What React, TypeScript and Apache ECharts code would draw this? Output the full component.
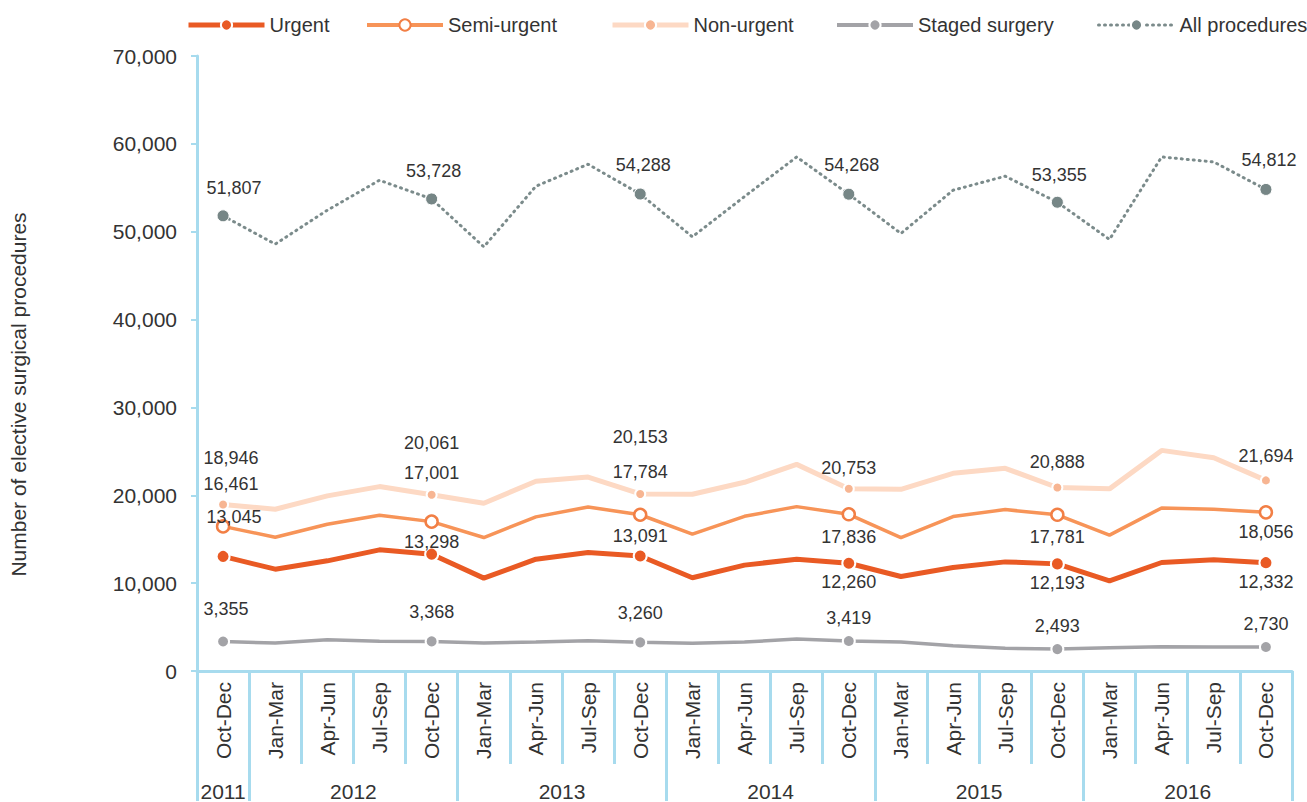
import React, { useEffect, useRef } from "react";
import * as echarts from "echarts";

const quarters = [
  "Oct-Dec",
  "Jan-Mar", "Apr-Jun", "Jul-Sep", "Oct-Dec",
  "Jan-Mar", "Apr-Jun", "Jul-Sep", "Oct-Dec",
  "Jan-Mar", "Apr-Jun", "Jul-Sep", "Oct-Dec",
  "Jan-Mar", "Apr-Jun", "Jul-Sep", "Oct-Dec",
  "Jan-Mar", "Apr-Jun", "Jul-Sep", "Oct-Dec",
];
const years = ["2011", "2012", "2013", "2014", "2015", "2016"];
const quartersPerYear = [1, 4, 4, 4, 4, 4];

const urgent = [13045, 11590, 12540, 13790, 13298, 10570, 12730, 13490, 13091, 10610, 12050, 12730, 12260, 10760, 11780, 12420, 12193, 10270, 12350, 12650, 12332];
const semiUrgent = [16461, 15230, 16700, 17730, 17001, 15190, 17540, 18670, 17784, 15570, 17610, 18710, 17836, 15190, 17580, 18370, 17781, 15460, 18560, 18410, 18056];
const nonUrgent = [18946, 18410, 19930, 20990, 20061, 19090, 21590, 22080, 20153, 20120, 21480, 23520, 20753, 20680, 22500, 23070, 20888, 20730, 25110, 24280, 21694];
const staged = [3355, 3180, 3560, 3400, 3368, 3180, 3300, 3450, 3260, 3150, 3300, 3640, 3419, 3300, 2880, 2580, 2493, 2650, 2770, 2730, 2730];
const allProcedures = [51807, 48590, 52450, 55860, 53728, 48280, 55180, 57680, 54288, 49420, 54000, 58510, 54268, 49800, 54720, 56320, 53355, 49120, 58510, 57940, 54812];

// label offsets (dx, dy) for labelled points (every 4th)
const offUrgent: Record<number, number[]> = { 0: [11, -39], 4: [0, -12], 8: [0, -20], 12: [0, 19], 16: [0, 19], 20: [0, 19] };
const offSemi: Record<number, number[]> = { 0: [8, -42], 4: [0, -49], 8: [0, -43], 12: [0, 23], 16: [0, 22], 20: [0, 20] };
const offNon: Record<number, number[]> = { 0: [8, -47], 4: [0, -52], 8: [0, -57], 12: [0, -21], 16: [0, -25], 20: [0, -24] };
const offStaged: Record<number, number[]> = { 0: [3, -33], 4: [0, -29], 8: [0, -29], 12: [0, -23], 16: [0, -23], 20: [0, -23] };
const offAll: Record<number, number[]> = { 0: [11, -28], 4: [2, -28], 8: [3, -29], 12: [3, -29], 16: [2, -27], 20: [3, -29] };

const AXIS_BLUE = "#a7dbee";
const TEXT = "#333333";
const FONT = "'Liberation Sans', Arial, Helvetica, sans-serif";
const BIG = 21;

function fmt(v: number) {
  return v.toLocaleString("en-US");
}

function buildData(values: number[], offs: Record<number, number[]>) {
  return values.map((v, i) => {
    const o = offs[i];
    if (!o) return { value: v, symbolSize: 0, label: { show: false } };
    return {
      value: v,
      label: {
        show: true,
        position: "inside",
        offset: o,
        formatter: () => fmt(v),
        color: TEXT,
        fontSize: 18,
        fontFamily: FONT,
      },
    };
  });
}

export default function App() {
  const ref = useRef<HTMLDivElement>(null);
  useEffect(() => {
    if (!ref.current) return;
    const chart = echarts.init(ref.current, null, { renderer: "svg" });

    // year axis: 43 half-quarter grid points (boundaryGap false)
    const n = quarters.length * 2 + 1;
    const yearAxisData: string[] = new Array(n).fill("");
    const yearBoundaries = new Set<number>();
    let cum = 0;
    yearBoundaries.add(0);
    years.forEach((y, k) => {
      const c = quartersPerYear[k];
      yearAxisData[cum * 2 + c] = y;
      cum += c;
      yearBoundaries.add(cum * 2);
    });

    const mkLegend = (name: string, left: number, lw: number) => ({
      data: [name],
      left,
      top: 15,
      padding: 0,
      itemWidth: 76,
      itemHeight: 14,
      lineStyle: { width: lw },
      textStyle: { color: TEXT, fontSize: 20, fontFamily: FONT },
    });

    const option: any = {
      animation: false,
      backgroundColor: "#ffffff",
      textStyle: { fontFamily: FONT },
      legend: [
        mkLegend("Urgent", 186, 5),
        mkLegend("Semi-urgent", 365, 4),
        mkLegend("Non-urgent", 610, 5),
        mkLegend("Staged surgery", 835, 4),
        mkLegend("All procedures", 1097, 3),
      ],
      grid: { left: 196, right: 15, top: 56, bottom: 130, containLabel: false },
      xAxis: [
        {
          type: "category",
          data: quarters,
          boundaryGap: true,
          axisLine: { show: true, lineStyle: { color: AXIS_BLUE, width: 3 } },
          axisTick: { show: true, interval: 0, length: 93, lineStyle: { color: AXIS_BLUE, width: 3 } },
          axisLabel: {
            interval: 0,
            rotate: 90,
            margin: 11,
            color: TEXT,
            fontSize: BIG,
            fontFamily: FONT,
          },
          splitLine: { show: false },
        },
        {
          type: "category",
          data: yearAxisData,
          position: "bottom",
          boundaryGap: false,
          axisLine: { show: false },
          axisTick: {
            show: true,
            interval: (idx: number) => yearBoundaries.has(idx),
            length: 130,
            lineStyle: { color: AXIS_BLUE, width: 3 },
          },
          axisLabel: {
            interval: 0,
            margin: 110,
            color: TEXT,
            fontSize: BIG,
            fontFamily: FONT,
          },
          splitLine: { show: false },
        },
      ],
      yAxis: {
        type: "value",
        min: 0,
        max: 70000,
        interval: 10000,
        name: "Number of elective surgical procedures",
        nameLocation: "middle",
        nameGap: 168,
        nameTextStyle: { color: TEXT, fontSize: BIG, fontFamily: FONT, padding: [0, 62, 0, 0] },
        axisLine: { show: true, lineStyle: { color: AXIS_BLUE, width: 3 } },
        axisTick: { show: true, length: 6, lineStyle: { color: AXIS_BLUE, width: 2 } },
        axisLabel: {
          color: TEXT,
          fontSize: BIG,
          fontFamily: FONT,
          margin: 20,
          formatter: (v: number) => fmt(v),
        },
        splitLine: { show: false },
      },
      series: [
        {
          name: "Staged surgery",
          type: "line",
          data: buildData(staged, offStaged),
          symbol: "circle",
          symbolSize: 12,
          lineStyle: { color: "#a3a3a7", width: 3.5 },
          itemStyle: { color: "#a3a3a7", borderColor: "#ffffff", borderWidth: 2 },
          z: 2,
        },
        {
          name: "Urgent",
          type: "line",
          data: buildData(urgent, offUrgent),
          symbol: "circle",
          symbolSize: 13,
          lineStyle: { color: "#e95a24", width: 5 },
          itemStyle: { color: "#e95a24", borderColor: "#ffffff", borderWidth: 2 },
          z: 3,
        },
        {
          name: "Semi-urgent",
          type: "line",
          data: buildData(semiUrgent, offSemi),
          symbol: "circle",
          symbolSize: 12,
          lineStyle: { color: "#f79458", width: 3.5 },
          itemStyle: { color: "#ffffff", borderColor: "#f27f45", borderWidth: 2.5 },
          z: 3,
        },
        {
          name: "Non-urgent",
          type: "line",
          data: buildData(nonUrgent, offNon),
          symbol: "circle",
          symbolSize: 10,
          lineStyle: { color: "#fdd9c4", width: 5 },
          itemStyle: { color: "#f7b592", borderColor: "#ffffff", borderWidth: 2 },
          z: 2,
        },
        {
          name: "All procedures",
          type: "line",
          data: buildData(allProcedures, offAll),
          symbol: "circle",
          symbolSize: 12,
          lineStyle: { color: "#7b8b8b", width: 3, type: [1, 5], cap: "round" },
          itemStyle: { color: "#768686", borderColor: "#ffffff", borderWidth: 1 },
          z: 2,
        },
      ],
    };
    chart.setOption(option);
    return () => chart.dispose();
  }, []);

  return (
    <div
      ref={ref}
      style={{ position: "absolute", left: 0, top: 0, width: 1307, height: 802, background: "#fff" }}
    />
  );
}
